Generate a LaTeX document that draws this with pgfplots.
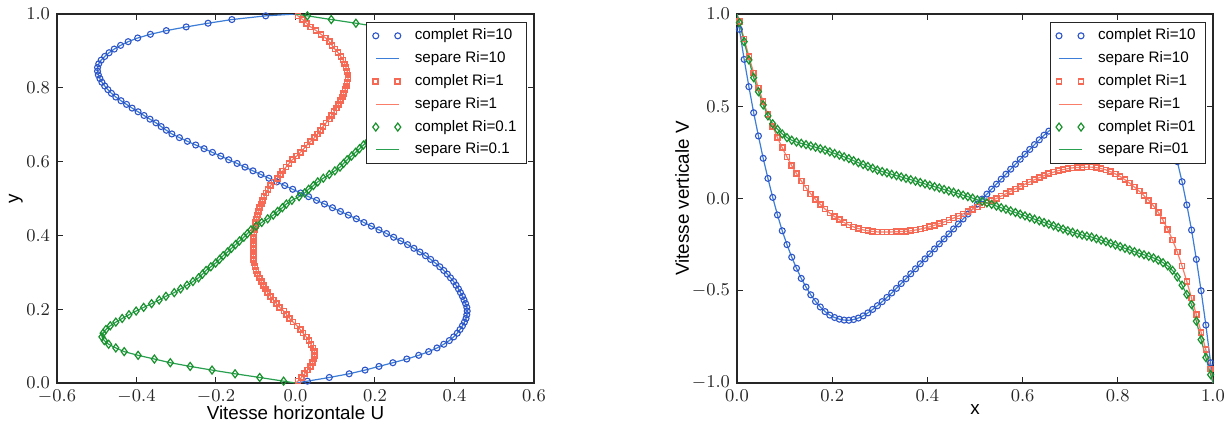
\documentclass[border=0pt]{standalone}
\usepackage{fontspec}
\setsansfont{Liberation Sans}
\usepackage{pgfplots}
\pgfplotsset{compat=1.18}
\usepackage{pgfplotstable}

\definecolor{cblue}{RGB}{45,85,200}
\definecolor{lblue}{RGB}{60,125,215}
\definecolor{cred}{RGB}{245,105,85}
\definecolor{lred}{RGB}{250,125,105}
\definecolor{cgreen}{RGB}{25,145,45}
\definecolor{lgreen}{RGB}{40,160,80}

\pgfplotstableread{
y a b c
0 0 0 0
0.005 0.030 0.006 -0.030
0.015 0.085 0.015 -0.090
0.025 0.135 0.023 -0.152
0.035 0.175 0.030 -0.210
0.045 0.210 0.037 -0.265
0.055 0.245 0.043 -0.315
0.065 0.280 0.047 -0.355
0.075 0.310 0.048 -0.396
0.085 0.335 0.048 -0.431
0.095 0.356 0.044 -0.452
0.105 0.373 0.039 -0.470
0.115 0.387 0.034 -0.481
0.125 0.398 0.027 -0.487
0.135 0.407 0.019 -0.484
0.145 0.414 0.012 -0.477
0.155 0.420 0.004 -0.466
0.165 0.425 -0.006 -0.452
0.175 0.429 -0.015 -0.436
0.185 0.431 -0.022 -0.419
0.195 0.432 -0.029 -0.401
0.205 0.431 -0.040 -0.382
0.215 0.428 -0.048 -0.362
0.225 0.424 -0.056 -0.343
0.235 0.420 -0.063 -0.326
0.245 0.415 -0.070 -0.305
0.255 0.410 -0.076 -0.289
0.265 0.404 -0.081 -0.273
0.275 0.398 -0.086 -0.258
0.285 0.390 -0.091 -0.244
0.295 0.382 -0.096 -0.234
0.305 0.373 -0.099 -0.225
0.315 0.363 -0.102 -0.213
0.325 0.352 -0.104 -0.201
0.335 0.340 -0.105 -0.191
0.345 0.327 -0.106 -0.182
0.355 0.313 -0.106 -0.171
0.365 0.298 -0.106 -0.161
0.375 0.282 -0.106 -0.151
0.385 0.265 -0.106 -0.141
0.395 0.247 -0.105 -0.130
0.405 0.229 -0.104 -0.121
0.415 0.210 -0.103 -0.112
0.425 0.191 -0.101 -0.099
0.435 0.172 -0.100 -0.085
0.445 0.153 -0.098 -0.070
0.455 0.133 -0.096 -0.056
0.465 0.113 -0.093 -0.045
0.475 0.093 -0.090 -0.033
0.485 0.073 -0.086 -0.023
0.495 0.053 -0.083 -0.009
0.505 0.033 -0.079 0.009
0.515 0.013 -0.074 0.023
0.525 -0.007 -0.069 0.033
0.535 -0.027 -0.063 0.045
0.545 -0.047 -0.054 0.056
0.555 -0.067 -0.045 0.070
0.565 -0.087 -0.038 0.085
0.575 -0.107 -0.032 0.099
0.585 -0.127 -0.024 0.112
0.595 -0.147 -0.016 0.121
0.605 -0.168 -0.008 0.130
0.615 -0.188 0.003 0.141
0.625 -0.209 0.012 0.151
0.635 -0.230 0.021 0.161
0.645 -0.251 0.029 0.171
0.655 -0.272 0.038 0.182
0.665 -0.292 0.048 0.191
0.675 -0.311 0.056 0.201
0.685 -0.325 0.063 0.213
0.695 -0.338 0.069 0.225
0.705 -0.351 0.077 0.234
0.715 -0.366 0.085 0.244
0.725 -0.381 0.091 0.258
0.735 -0.396 0.097 0.273
0.745 -0.411 0.103 0.289
0.755 -0.425 0.108 0.305
0.765 -0.439 0.113 0.326
0.775 -0.452 0.118 0.343
0.785 -0.463 0.121 0.362
0.795 -0.472 0.125 0.382
0.805 -0.480 0.128 0.401
0.815 -0.487 0.130 0.419
0.825 -0.492 0.132 0.436
0.835 -0.496 0.132 0.452
0.845 -0.498 0.130 0.466
0.855 -0.498 0.127 0.477
0.865 -0.495 0.124 0.484
0.875 -0.489 0.120 0.487
0.885 -0.480 0.114 0.481
0.895 -0.469 0.107 0.470
0.905 -0.456 0.099 0.452
0.915 -0.440 0.092 0.431
0.925 -0.421 0.085 0.396
0.935 -0.397 0.076 0.355
0.945 -0.365 0.064 0.315
0.955 -0.325 0.052 0.265
0.965 -0.275 0.038 0.210
0.975 -0.220 0.028 0.152
0.985 -0.160 0.018 0.090
0.995 -0.075 0.006 0.030
1 0 0 0
}\lefttab

\pgfplotstableread{
x a b c
0 1 1 1
0.005 0.917 0.960 0.953
0.015 0.754 0.865 0.850
0.025 0.606 0.770 0.751
0.035 0.465 0.680 0.655
0.045 0.339 0.600 0.579
0.055 0.218 0.525 0.507
0.065 0.109 0.455 0.448
0.075 0.006 0.390 0.405
0.085 -0.089 0.330 0.375
0.095 -0.175 0.275 0.350
0.105 -0.250 0.225 0.330
0.115 -0.318 0.178 0.316
0.125 -0.378 0.135 0.306
0.135 -0.433 0.095 0.299
0.145 -0.480 0.058 0.292
0.155 -0.522 0.025 0.285
0.165 -0.558 -0.005 0.278
0.175 -0.588 -0.032 0.270
0.185 -0.613 -0.057 0.262
0.195 -0.632 -0.079 0.253
0.205 -0.645 -0.098 0.244
0.215 -0.654 -0.115 0.235
0.225 -0.659 -0.130 0.226
0.235 -0.660 -0.143 0.216
0.245 -0.656 -0.154 0.205
0.255 -0.648 -0.163 0.194
0.265 -0.636 -0.170 0.184
0.275 -0.620 -0.175 0.174
0.285 -0.601 -0.179 0.164
0.295 -0.581 -0.181 0.154
0.305 -0.559 -0.182 0.146
0.315 -0.536 -0.182 0.139
0.325 -0.512 -0.181 0.131
0.335 -0.487 -0.180 0.124
0.345 -0.461 -0.179 0.117
0.355 -0.435 -0.178 0.109
0.365 -0.408 -0.175 0.102
0.375 -0.381 -0.171 0.094
0.385 -0.354 -0.166 0.087
0.395 -0.327 -0.160 0.079
0.405 -0.300 -0.153 0.072
0.415 -0.273 -0.145 0.064
0.425 -0.246 -0.136 0.057
0.435 -0.219 -0.127 0.049
0.445 -0.192 -0.117 0.041
0.455 -0.165 -0.106 0.034
0.465 -0.138 -0.095 0.026
0.475 -0.111 -0.083 0.018
0.485 -0.084 -0.071 0.010
0.495 -0.057 -0.058 0.002
0.505 -0.030 -0.045 -0.007
0.515 -0.003 -0.035 -0.015
0.525 0.024 -0.024 -0.024
0.535 0.051 -0.012 -0.032
0.545 0.078 0.000 -0.041
0.555 0.105 0.013 -0.050
0.565 0.132 0.026 -0.058
0.575 0.159 0.039 -0.067
0.585 0.186 0.052 -0.076
0.595 0.213 0.065 -0.085
0.605 0.240 0.078 -0.094
0.615 0.266 0.090 -0.103
0.625 0.292 0.102 -0.112
0.635 0.318 0.113 -0.121
0.645 0.343 0.124 -0.130
0.655 0.365 0.134 -0.139
0.665 0.385 0.143 -0.148
0.675 0.405 0.151 -0.157
0.685 0.425 0.157 -0.166
0.695 0.445 0.162 -0.175
0.705 0.464 0.166 -0.183
0.715 0.482 0.168 -0.191
0.725 0.500 0.169 -0.198
0.735 0.517 0.170 -0.204
0.745 0.533 0.170 -0.209
0.755 0.548 0.167 -0.218
0.765 0.562 0.162 -0.226
0.775 0.575 0.155 -0.234
0.785 0.587 0.145 -0.243
0.795 0.598 0.133 -0.252
0.805 0.607 0.119 -0.261
0.815 0.614 0.102 -0.270
0.825 0.618 0.083 -0.279
0.835 0.618 0.062 -0.288
0.845 0.612 0.040 -0.297
0.855 0.598 0.015 -0.305
0.865 0.575 -0.010 -0.313
0.875 0.542 -0.040 -0.322
0.885 0.497 -0.075 -0.334
0.895 0.440 -0.118 -0.348
0.905 0.371 -0.168 -0.365
0.915 0.290 -0.225 -0.390
0.925 0.200 -0.290 -0.425
0.935 0.091 -0.365 -0.470
0.945 -0.035 -0.450 -0.520
0.955 -0.171 -0.540 -0.575
0.965 -0.330 -0.630 -0.665
0.975 -0.500 -0.725 -0.765
0.985 -0.686 -0.820 -0.862
0.995 -0.890 -0.925 -0.955
1 -1 -1 -1
}\righttab

\pgfplotsset{
  twomarks/.style={legend image code/.code={%
    \draw[##1,/tikz/only marks] plot coordinates {(0pt,0pt)};
    \draw[##1,/tikz/only marks] plot coordinates {(11pt,0pt)};}},
  lineimg/.style={legend image code/.code={\draw[##1] (0pt,0pt) -- (11.5pt,0pt);}},
  inner/.style={skip coords between index={0}{1}, skip coords between index={101}{102}},
  myaxis/.style={
    scale only axis, width=238.5pt, height=184.5pt,
    axis line style={line width=0.6pt, black!85},
    tick style={line width=0.5pt, black!85},
    major tick length=3pt,
    tick label style={font=\fontsize{8.7}{10}\selectfont, text=black!85},
    label style={font=\sffamily\fontsize{9.4}{11}\selectfont},
    legend cell align=left,
    legend style={at={(1,1)}, anchor=north east, xshift=-3.5pt, yshift=-4pt,
      draw=black!85, font=\sffamily\fontsize{7.6}{9}\selectfont,
      row sep=0.4pt, inner xsep=3pt, inner ysep=1.2pt, column sep=5pt},
    xticklabel style={/pgf/number format/.cd, fixed, fixed zerofill, precision=1},
    yticklabel style={/pgf/number format/.cd, fixed, fixed zerofill, precision=1},
  },
  cm10/.style={only marks, color=cblue, mark=o, mark size=1.5pt, mark options={line width=0.55pt}, twomarks},
  cm1/.style={only marks, color=cred, mark=square, mark size=1.25pt, mark options={line width=0.8pt}, twomarks},
  cm01/.style={only marks, color=cgreen, mark=diamond, mark size=2.0pt, mark options={line width=0.6pt}, twomarks},
  sl10/.style={no marks, color=lblue, line width=0.6pt, lineimg},
  sl1/.style={no marks, color=lred, line width=0.6pt, lineimg},
  sl01/.style={no marks, color=lgreen, line width=0.6pt, lineimg},
}

\begin{document}
\begin{tikzpicture}
\useasboundingbox (0,0) rectangle (613.5pt,212.5pt);
\begin{axis}[myaxis, at={(28.5pt,21pt)}, anchor=south west,
  xmin=-0.6, xmax=0.6, ymin=0, ymax=1,
  xtick={-0.6,-0.4,-0.2,0,0.2,0.4,0.6},
  ytick={0,0.2,0.4,0.6,0.8,1},
  xlabel={Vitesse horizontale U},
  ylabel={y},
  xlabel style={at={(axis description cs:0.5,-0.081)}, anchor=center},
  ylabel style={at={(axis description cs:-0.086,0.5)}, anchor=center},
]
\addplot[cm10, inner] table[x=a, y=y] {\lefttab};
\addlegendentry{complet Ri=10}
\addplot[sl10] table[x=a, y=y] {\lefttab};
\addlegendentry{separe Ri=10}
\addplot[cm1, inner] table[x=b, y=y] {\lefttab};
\addlegendentry{complet Ri=1}
\addplot[sl1] table[x=b, y=y] {\lefttab};
\addlegendentry{separe Ri=1}
\addplot[cm01, inner] table[x=c, y=y] {\lefttab};
\addlegendentry{complet Ri=0.1}
\addplot[sl01] table[x=c, y=y] {\lefttab};
\addlegendentry{separe Ri=0.1}
\end{axis}

\begin{axis}[myaxis, at={(368.5pt,21pt)}, anchor=south west, width=238pt,
  xmin=0, xmax=1, ymin=-1, ymax=1,
  xtick={0,0.2,0.4,0.6,0.8,1},
  ytick={-1,-0.5,0,0.5,1},
  xlabel={x},
  ylabel={Vitesse verticale V},
  xlabel style={at={(axis description cs:0.5,-0.073)}, anchor=center},
  ylabel style={at={(axis description cs:-0.1155,0.5)}, anchor=center},
]
\addplot[cm10, inner] table[x=x, y=a] {\righttab};
\addlegendentry{complet Ri=10}
\addplot[sl10] table[x=x, y=a] {\righttab};
\addlegendentry{separe Ri=10}
\addplot[cm1, inner] table[x=x, y=b] {\righttab};
\addlegendentry{complet Ri=1}
\addplot[sl1] table[x=x, y=b] {\righttab};
\addlegendentry{separe Ri=1}
\addplot[cm01, inner] table[x=x, y=c] {\righttab};
\addlegendentry{complet Ri=01}
\addplot[sl01] table[x=x, y=c] {\righttab};
\addlegendentry{separe Ri=01}
\end{axis}
\end{tikzpicture}
\end{document}
